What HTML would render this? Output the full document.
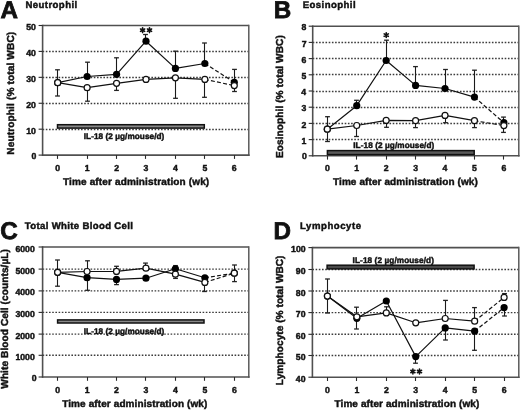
<!DOCTYPE html>
<html><head><meta charset="utf-8"><style>
html,body{margin:0;padding:0;background:#fff;}
svg{display:block;will-change:transform;}
text{font-family:"Liberation Sans", sans-serif;text-rendering:geometricPrecision;}
</style></head><body>
<svg width="520" height="410" viewBox="0 0 520 410">
<rect width="520" height="410" fill="#fff"/>
<line x1="42.60" y1="129.50" x2="248.80" y2="129.50" stroke="#3c3c3c" stroke-width="1.4" stroke-linecap="butt" stroke-dasharray="1.6 1.6"/>
<line x1="42.60" y1="103.50" x2="248.80" y2="103.50" stroke="#3c3c3c" stroke-width="1.4" stroke-linecap="butt" stroke-dasharray="1.6 1.6"/>
<line x1="42.60" y1="77.50" x2="248.80" y2="77.50" stroke="#3c3c3c" stroke-width="1.4" stroke-linecap="butt" stroke-dasharray="1.6 1.6"/>
<line x1="42.60" y1="51.50" x2="248.80" y2="51.50" stroke="#3c3c3c" stroke-width="1.4" stroke-linecap="butt" stroke-dasharray="1.6 1.6"/>
<line x1="42.60" y1="25.50" x2="248.80" y2="25.50" stroke="#505050" stroke-width="1.6" stroke-linecap="butt"/>
<line x1="248.80" y1="24.70" x2="248.80" y2="155.90" stroke="#5a5a5a" stroke-width="1.5" stroke-linecap="butt"/>
<line x1="42.60" y1="155.10" x2="249.60" y2="155.10" stroke="#505050" stroke-width="1.6" stroke-linecap="butt"/>
<line x1="42.60" y1="24.70" x2="42.60" y2="155.90" stroke="#505050" stroke-width="1.6" stroke-linecap="butt"/>
<line x1="38.60" y1="155.10" x2="42.60" y2="155.10" stroke="#2a2a2a" stroke-width="1.1" stroke-linecap="butt"/>
<line x1="38.60" y1="129.18" x2="42.60" y2="129.18" stroke="#2a2a2a" stroke-width="1.1" stroke-linecap="butt"/>
<line x1="38.60" y1="103.26" x2="42.60" y2="103.26" stroke="#2a2a2a" stroke-width="1.1" stroke-linecap="butt"/>
<line x1="38.60" y1="77.34" x2="42.60" y2="77.34" stroke="#2a2a2a" stroke-width="1.1" stroke-linecap="butt"/>
<line x1="38.60" y1="51.42" x2="42.60" y2="51.42" stroke="#2a2a2a" stroke-width="1.1" stroke-linecap="butt"/>
<line x1="38.60" y1="25.50" x2="42.60" y2="25.50" stroke="#2a2a2a" stroke-width="1.1" stroke-linecap="butt"/>
<line x1="57.50" y1="155.10" x2="57.50" y2="158.90" stroke="#2a2a2a" stroke-width="1.1" stroke-linecap="butt"/>
<line x1="87.50" y1="155.10" x2="87.50" y2="158.90" stroke="#2a2a2a" stroke-width="1.1" stroke-linecap="butt"/>
<line x1="116.50" y1="155.10" x2="116.50" y2="158.90" stroke="#2a2a2a" stroke-width="1.1" stroke-linecap="butt"/>
<line x1="145.50" y1="155.10" x2="145.50" y2="158.90" stroke="#2a2a2a" stroke-width="1.1" stroke-linecap="butt"/>
<line x1="175.50" y1="155.10" x2="175.50" y2="158.90" stroke="#2a2a2a" stroke-width="1.1" stroke-linecap="butt"/>
<line x1="204.50" y1="155.10" x2="204.50" y2="158.90" stroke="#2a2a2a" stroke-width="1.1" stroke-linecap="butt"/>
<line x1="234.50" y1="155.10" x2="234.50" y2="158.90" stroke="#2a2a2a" stroke-width="1.1" stroke-linecap="butt"/>
<text x="31.61" y="159.00" font-size="8.7" font-weight="bold" fill="#111" stroke="#111" stroke-width="0.45" textLength="4.84" lengthAdjust="spacing">0</text>
<text x="26.27" y="133.68" font-size="8.7" font-weight="bold" fill="#111" stroke="#111" stroke-width="0.45" textLength="9.68" lengthAdjust="spacing">10</text>
<text x="26.27" y="107.76" font-size="8.7" font-weight="bold" fill="#111" stroke="#111" stroke-width="0.45" textLength="9.68" lengthAdjust="spacing">20</text>
<text x="26.27" y="81.84" font-size="8.7" font-weight="bold" fill="#111" stroke="#111" stroke-width="0.45" textLength="9.68" lengthAdjust="spacing">30</text>
<text x="26.27" y="55.92" font-size="8.7" font-weight="bold" fill="#111" stroke="#111" stroke-width="0.45" textLength="9.68" lengthAdjust="spacing">40</text>
<text x="26.27" y="30.00" font-size="8.7" font-weight="bold" fill="#111" stroke="#111" stroke-width="0.45" textLength="9.68" lengthAdjust="spacing">50</text>
<text x="55.28" y="170.90" font-size="8.7" font-weight="bold" fill="#111" stroke="#111" stroke-width="0.45" textLength="4.84" lengthAdjust="spacing">0</text>
<text x="84.71" y="170.90" font-size="8.7" font-weight="bold" fill="#111" stroke="#111" stroke-width="0.45" textLength="4.84" lengthAdjust="spacing">1</text>
<text x="114.14" y="170.90" font-size="8.7" font-weight="bold" fill="#111" stroke="#111" stroke-width="0.45" textLength="4.84" lengthAdjust="spacing">2</text>
<text x="143.57" y="170.90" font-size="8.7" font-weight="bold" fill="#111" stroke="#111" stroke-width="0.45" textLength="4.84" lengthAdjust="spacing">3</text>
<text x="173.00" y="170.90" font-size="8.7" font-weight="bold" fill="#111" stroke="#111" stroke-width="0.45" textLength="4.84" lengthAdjust="spacing">4</text>
<text x="202.43" y="170.90" font-size="8.7" font-weight="bold" fill="#111" stroke="#111" stroke-width="0.45" textLength="4.84" lengthAdjust="spacing">5</text>
<text x="231.86" y="170.90" font-size="8.7" font-weight="bold" fill="#111" stroke="#111" stroke-width="0.45" textLength="4.84" lengthAdjust="spacing">6</text>
<text x="0.57" y="17.90" font-size="24.2" font-weight="bold" fill="#111" stroke="#111" stroke-width="0.8" textLength="17.66" lengthAdjust="spacing">A</text>
<text x="25.47" y="8.20" font-size="9.6" font-weight="bold" fill="#111" stroke="#111" stroke-width="0.45" textLength="51.70" lengthAdjust="spacing">Neutrophil</text>
<text x="62.98" y="184.70" font-size="10.0" font-weight="bold" fill="#111" stroke="#111" stroke-width="0.45" textLength="146.21" lengthAdjust="spacing">Time after administration (wk)</text>
<text x="83.76" y="139.00" font-size="8.2" font-weight="bold" fill="#111" stroke="#111" stroke-width="0.45" textLength="80.54" lengthAdjust="spacing">IL-18 (2 µg/mouse/d)</text>
<text x="14.20" y="154.77" font-size="10.1" font-weight="bold" fill="#111" stroke="#111" stroke-width="0.45" textLength="122.96" lengthAdjust="spacing" transform="rotate(-90 14.20 154.77)">Neutrophil (% total WBC)</text>
<rect x="57.50" y="124.70" width="146.80" height="3.40" fill="#888" stroke="#111" stroke-width="1.5"/>
<line x1="87.50" y1="62.20" x2="87.50" y2="76.50" stroke="#1a1a1a" stroke-width="1.1" stroke-linecap="butt"/>
<line x1="85.10" y1="62.20" x2="89.90" y2="62.20" stroke="#222" stroke-width="1.3" stroke-linecap="butt"/>
<line x1="116.50" y1="57.80" x2="116.50" y2="74.30" stroke="#1a1a1a" stroke-width="1.1" stroke-linecap="butt"/>
<line x1="114.10" y1="57.80" x2="118.90" y2="57.80" stroke="#222" stroke-width="1.3" stroke-linecap="butt"/>
<line x1="145.50" y1="34.50" x2="145.50" y2="41.20" stroke="#1a1a1a" stroke-width="1.1" stroke-linecap="butt"/>
<line x1="143.10" y1="34.50" x2="147.90" y2="34.50" stroke="#222" stroke-width="1.3" stroke-linecap="butt"/>
<line x1="175.50" y1="51.20" x2="175.50" y2="68.40" stroke="#1a1a1a" stroke-width="1.1" stroke-linecap="butt"/>
<line x1="173.10" y1="51.20" x2="177.90" y2="51.20" stroke="#222" stroke-width="1.3" stroke-linecap="butt"/>
<line x1="204.50" y1="43.00" x2="204.50" y2="63.50" stroke="#1a1a1a" stroke-width="1.1" stroke-linecap="butt"/>
<line x1="202.10" y1="43.00" x2="206.90" y2="43.00" stroke="#222" stroke-width="1.3" stroke-linecap="butt"/>
<line x1="234.50" y1="69.40" x2="234.50" y2="82.30" stroke="#1a1a1a" stroke-width="1.1" stroke-linecap="butt"/>
<line x1="232.10" y1="69.40" x2="236.90" y2="69.40" stroke="#222" stroke-width="1.3" stroke-linecap="butt"/>
<line x1="57.50" y1="69.80" x2="57.50" y2="82.70" stroke="#1a1a1a" stroke-width="1.1" stroke-linecap="butt"/>
<line x1="55.10" y1="69.80" x2="59.90" y2="69.80" stroke="#222" stroke-width="1.3" stroke-linecap="butt"/>
<line x1="57.50" y1="82.70" x2="57.50" y2="96.00" stroke="#1a1a1a" stroke-width="1.1" stroke-linecap="butt"/>
<line x1="55.10" y1="96.00" x2="59.90" y2="96.00" stroke="#222" stroke-width="1.3" stroke-linecap="butt"/>
<line x1="87.50" y1="87.70" x2="87.50" y2="101.20" stroke="#1a1a1a" stroke-width="1.1" stroke-linecap="butt"/>
<line x1="85.10" y1="101.20" x2="89.90" y2="101.20" stroke="#222" stroke-width="1.3" stroke-linecap="butt"/>
<line x1="116.50" y1="83.30" x2="116.50" y2="90.40" stroke="#1a1a1a" stroke-width="1.1" stroke-linecap="butt"/>
<line x1="114.10" y1="90.40" x2="118.90" y2="90.40" stroke="#222" stroke-width="1.3" stroke-linecap="butt"/>
<line x1="175.50" y1="77.80" x2="175.50" y2="98.30" stroke="#1a1a1a" stroke-width="1.1" stroke-linecap="butt"/>
<line x1="173.10" y1="98.30" x2="177.90" y2="98.30" stroke="#222" stroke-width="1.3" stroke-linecap="butt"/>
<line x1="204.50" y1="79.40" x2="204.50" y2="97.30" stroke="#1a1a1a" stroke-width="1.1" stroke-linecap="butt"/>
<line x1="202.10" y1="97.30" x2="206.90" y2="97.30" stroke="#222" stroke-width="1.3" stroke-linecap="butt"/>
<line x1="234.50" y1="85.60" x2="234.50" y2="91.50" stroke="#1a1a1a" stroke-width="1.1" stroke-linecap="butt"/>
<line x1="232.10" y1="91.50" x2="236.90" y2="91.50" stroke="#222" stroke-width="1.3" stroke-linecap="butt"/>
<polyline points="57.70,82.70 87.13,76.50 116.56,74.30 145.99,41.20 175.42,68.40 204.85,63.50" fill="none" stroke="#111" stroke-width="1.2" stroke-linejoin="round"/>
<polyline points="204.85,63.50 234.28,82.30" fill="none" stroke="#111" stroke-width="1.2" stroke-dasharray="4 2.2"/>
<polyline points="57.70,82.70 87.13,87.70 116.56,83.30 145.99,79.40 175.42,77.80 204.85,79.40" fill="none" stroke="#111" stroke-width="1.2" stroke-linejoin="round"/>
<polyline points="204.85,79.40 234.28,85.60" fill="none" stroke="#111" stroke-width="1.2" stroke-dasharray="4 2.2"/>
<circle cx="57.70" cy="82.70" r="3.6" fill="#000"/>
<circle cx="87.13" cy="76.50" r="3.6" fill="#000"/>
<circle cx="116.56" cy="74.30" r="3.6" fill="#000"/>
<circle cx="145.99" cy="41.20" r="3.6" fill="#000"/>
<circle cx="175.42" cy="68.40" r="3.6" fill="#000"/>
<circle cx="204.85" cy="63.50" r="3.6" fill="#000"/>
<circle cx="234.28" cy="82.30" r="3.6" fill="#000"/>
<circle cx="57.70" cy="82.70" r="3.0" fill="#fff" stroke="#111" stroke-width="1.2"/>
<circle cx="87.13" cy="87.70" r="3.0" fill="#fff" stroke="#111" stroke-width="1.2"/>
<circle cx="116.56" cy="83.30" r="3.0" fill="#fff" stroke="#111" stroke-width="1.2"/>
<circle cx="145.99" cy="79.40" r="3.0" fill="#fff" stroke="#111" stroke-width="1.2"/>
<circle cx="175.42" cy="77.80" r="3.0" fill="#fff" stroke="#111" stroke-width="1.2"/>
<circle cx="204.85" cy="79.40" r="3.0" fill="#fff" stroke="#111" stroke-width="1.2"/>
<circle cx="234.28" cy="85.60" r="3.0" fill="#fff" stroke="#111" stroke-width="1.2"/>
<path d="M142.60,27.80L142.60,32.60M140.52,29.00L144.68,31.40M144.68,29.00L140.52,31.40" stroke="#111" stroke-width="1.6" stroke-linecap="round" fill="none"/>
<path d="M149.50,27.80L149.50,32.60M147.42,29.00L151.58,31.40M151.58,29.00L147.42,31.40" stroke="#111" stroke-width="1.6" stroke-linecap="round" fill="none"/>
<line x1="312.70" y1="139.50" x2="518.80" y2="139.50" stroke="#3c3c3c" stroke-width="1.4" stroke-linecap="butt" stroke-dasharray="1.6 1.6"/>
<line x1="312.70" y1="123.50" x2="518.80" y2="123.50" stroke="#3c3c3c" stroke-width="1.4" stroke-linecap="butt" stroke-dasharray="1.6 1.6"/>
<line x1="312.70" y1="107.50" x2="518.80" y2="107.50" stroke="#3c3c3c" stroke-width="1.4" stroke-linecap="butt" stroke-dasharray="1.6 1.6"/>
<line x1="312.70" y1="91.50" x2="518.80" y2="91.50" stroke="#3c3c3c" stroke-width="1.4" stroke-linecap="butt" stroke-dasharray="1.6 1.6"/>
<line x1="312.70" y1="74.50" x2="518.80" y2="74.50" stroke="#3c3c3c" stroke-width="1.4" stroke-linecap="butt" stroke-dasharray="1.6 1.6"/>
<line x1="312.70" y1="58.50" x2="518.80" y2="58.50" stroke="#3c3c3c" stroke-width="1.4" stroke-linecap="butt" stroke-dasharray="1.6 1.6"/>
<line x1="312.70" y1="42.50" x2="518.80" y2="42.50" stroke="#3c3c3c" stroke-width="1.4" stroke-linecap="butt" stroke-dasharray="1.6 1.6"/>
<line x1="312.70" y1="26.20" x2="518.80" y2="26.20" stroke="#505050" stroke-width="1.6" stroke-linecap="butt"/>
<line x1="518.80" y1="25.40" x2="518.80" y2="156.60" stroke="#5a5a5a" stroke-width="1.5" stroke-linecap="butt"/>
<line x1="312.70" y1="155.80" x2="519.60" y2="155.80" stroke="#505050" stroke-width="1.6" stroke-linecap="butt"/>
<line x1="312.70" y1="25.40" x2="312.70" y2="156.60" stroke="#505050" stroke-width="1.6" stroke-linecap="butt"/>
<line x1="308.70" y1="155.80" x2="312.70" y2="155.80" stroke="#2a2a2a" stroke-width="1.1" stroke-linecap="butt"/>
<line x1="308.70" y1="139.60" x2="312.70" y2="139.60" stroke="#2a2a2a" stroke-width="1.1" stroke-linecap="butt"/>
<line x1="308.70" y1="123.40" x2="312.70" y2="123.40" stroke="#2a2a2a" stroke-width="1.1" stroke-linecap="butt"/>
<line x1="308.70" y1="107.20" x2="312.70" y2="107.20" stroke="#2a2a2a" stroke-width="1.1" stroke-linecap="butt"/>
<line x1="308.70" y1="91.00" x2="312.70" y2="91.00" stroke="#2a2a2a" stroke-width="1.1" stroke-linecap="butt"/>
<line x1="308.70" y1="74.80" x2="312.70" y2="74.80" stroke="#2a2a2a" stroke-width="1.1" stroke-linecap="butt"/>
<line x1="308.70" y1="58.60" x2="312.70" y2="58.60" stroke="#2a2a2a" stroke-width="1.1" stroke-linecap="butt"/>
<line x1="308.70" y1="42.40" x2="312.70" y2="42.40" stroke="#2a2a2a" stroke-width="1.1" stroke-linecap="butt"/>
<line x1="308.70" y1="26.20" x2="312.70" y2="26.20" stroke="#2a2a2a" stroke-width="1.1" stroke-linecap="butt"/>
<line x1="327.50" y1="155.80" x2="327.50" y2="159.60" stroke="#2a2a2a" stroke-width="1.1" stroke-linecap="butt"/>
<line x1="356.50" y1="155.80" x2="356.50" y2="159.60" stroke="#2a2a2a" stroke-width="1.1" stroke-linecap="butt"/>
<line x1="386.50" y1="155.80" x2="386.50" y2="159.60" stroke="#2a2a2a" stroke-width="1.1" stroke-linecap="butt"/>
<line x1="415.50" y1="155.80" x2="415.50" y2="159.60" stroke="#2a2a2a" stroke-width="1.1" stroke-linecap="butt"/>
<line x1="445.50" y1="155.80" x2="445.50" y2="159.60" stroke="#2a2a2a" stroke-width="1.1" stroke-linecap="butt"/>
<line x1="474.50" y1="155.80" x2="474.50" y2="159.60" stroke="#2a2a2a" stroke-width="1.1" stroke-linecap="butt"/>
<line x1="503.50" y1="155.80" x2="503.50" y2="159.60" stroke="#2a2a2a" stroke-width="1.1" stroke-linecap="butt"/>
<text x="302.11" y="159.40" font-size="8.7" font-weight="bold" fill="#111" stroke="#111" stroke-width="0.45" textLength="4.84" lengthAdjust="spacing">0</text>
<text x="301.51" y="143.70" font-size="8.7" font-weight="bold" fill="#111" stroke="#111" stroke-width="0.45" textLength="4.84" lengthAdjust="spacing">1</text>
<text x="301.61" y="127.50" font-size="8.7" font-weight="bold" fill="#111" stroke="#111" stroke-width="0.45" textLength="4.84" lengthAdjust="spacing">2</text>
<text x="301.58" y="111.30" font-size="8.7" font-weight="bold" fill="#111" stroke="#111" stroke-width="0.45" textLength="4.84" lengthAdjust="spacing">3</text>
<text x="301.32" y="95.10" font-size="8.7" font-weight="bold" fill="#111" stroke="#111" stroke-width="0.45" textLength="4.84" lengthAdjust="spacing">4</text>
<text x="301.51" y="78.90" font-size="8.7" font-weight="bold" fill="#111" stroke="#111" stroke-width="0.45" textLength="4.84" lengthAdjust="spacing">5</text>
<text x="301.58" y="62.70" font-size="8.7" font-weight="bold" fill="#111" stroke="#111" stroke-width="0.45" textLength="4.84" lengthAdjust="spacing">6</text>
<text x="301.65" y="46.50" font-size="8.7" font-weight="bold" fill="#111" stroke="#111" stroke-width="0.45" textLength="4.84" lengthAdjust="spacing">7</text>
<text x="301.52" y="30.30" font-size="8.7" font-weight="bold" fill="#111" stroke="#111" stroke-width="0.45" textLength="4.84" lengthAdjust="spacing">8</text>
<text x="324.88" y="170.90" font-size="8.7" font-weight="bold" fill="#111" stroke="#111" stroke-width="0.45" textLength="4.84" lengthAdjust="spacing">0</text>
<text x="354.31" y="170.90" font-size="8.7" font-weight="bold" fill="#111" stroke="#111" stroke-width="0.45" textLength="4.84" lengthAdjust="spacing">1</text>
<text x="383.74" y="170.90" font-size="8.7" font-weight="bold" fill="#111" stroke="#111" stroke-width="0.45" textLength="4.84" lengthAdjust="spacing">2</text>
<text x="413.17" y="170.90" font-size="8.7" font-weight="bold" fill="#111" stroke="#111" stroke-width="0.45" textLength="4.84" lengthAdjust="spacing">3</text>
<text x="442.60" y="170.90" font-size="8.7" font-weight="bold" fill="#111" stroke="#111" stroke-width="0.45" textLength="4.84" lengthAdjust="spacing">4</text>
<text x="472.03" y="170.90" font-size="8.7" font-weight="bold" fill="#111" stroke="#111" stroke-width="0.45" textLength="4.84" lengthAdjust="spacing">5</text>
<text x="501.46" y="170.90" font-size="8.7" font-weight="bold" fill="#111" stroke="#111" stroke-width="0.45" textLength="4.84" lengthAdjust="spacing">6</text>
<text x="273.70" y="17.90" font-size="24.2" font-weight="bold" fill="#111" stroke="#111" stroke-width="0.8" textLength="17.01" lengthAdjust="spacing">B</text>
<text x="302.67" y="8.30" font-size="9.6" font-weight="bold" fill="#111" stroke="#111" stroke-width="0.45" textLength="52.90" lengthAdjust="spacing">Eosinophil</text>
<text x="332.98" y="184.70" font-size="10.0" font-weight="bold" fill="#111" stroke="#111" stroke-width="0.45" textLength="144.81" lengthAdjust="spacing">Time after administration (wk)</text>
<text x="353.26" y="148.30" font-size="8.2" font-weight="bold" fill="#111" stroke="#111" stroke-width="0.45" textLength="81.04" lengthAdjust="spacing">IL-18 (2 µg/mouse/d)</text>
<text x="282.80" y="157.97" font-size="10.1" font-weight="bold" fill="#111" stroke="#111" stroke-width="0.45" textLength="122.76" lengthAdjust="spacing" transform="rotate(-90 282.80 157.97)">Eosinophil (% total WBC)</text>
<rect x="327.40" y="150.60" width="146.80" height="4.00" fill="#5a5a5a" stroke="#111" stroke-width="1.5"/>
<line x1="356.50" y1="100.30" x2="356.50" y2="105.70" stroke="#1a1a1a" stroke-width="1.1" stroke-linecap="butt"/>
<line x1="354.10" y1="100.30" x2="358.90" y2="100.30" stroke="#222" stroke-width="1.3" stroke-linecap="butt"/>
<line x1="386.50" y1="40.20" x2="386.50" y2="60.50" stroke="#1a1a1a" stroke-width="1.1" stroke-linecap="butt"/>
<line x1="384.10" y1="40.20" x2="388.90" y2="40.20" stroke="#222" stroke-width="1.3" stroke-linecap="butt"/>
<line x1="415.50" y1="66.60" x2="415.50" y2="85.40" stroke="#1a1a1a" stroke-width="1.1" stroke-linecap="butt"/>
<line x1="413.10" y1="66.60" x2="417.90" y2="66.60" stroke="#222" stroke-width="1.3" stroke-linecap="butt"/>
<line x1="445.50" y1="69.50" x2="445.50" y2="88.50" stroke="#1a1a1a" stroke-width="1.1" stroke-linecap="butt"/>
<line x1="443.10" y1="69.50" x2="447.90" y2="69.50" stroke="#222" stroke-width="1.3" stroke-linecap="butt"/>
<line x1="474.50" y1="70.20" x2="474.50" y2="97.10" stroke="#1a1a1a" stroke-width="1.1" stroke-linecap="butt"/>
<line x1="472.10" y1="70.20" x2="476.90" y2="70.20" stroke="#222" stroke-width="1.3" stroke-linecap="butt"/>
<line x1="503.50" y1="117.10" x2="503.50" y2="122.70" stroke="#1a1a1a" stroke-width="1.1" stroke-linecap="butt"/>
<line x1="501.10" y1="117.10" x2="505.90" y2="117.10" stroke="#222" stroke-width="1.3" stroke-linecap="butt"/>
<line x1="327.50" y1="116.70" x2="327.50" y2="129.20" stroke="#1a1a1a" stroke-width="1.1" stroke-linecap="butt"/>
<line x1="325.10" y1="116.70" x2="329.90" y2="116.70" stroke="#222" stroke-width="1.3" stroke-linecap="butt"/>
<line x1="327.50" y1="129.20" x2="327.50" y2="141.50" stroke="#1a1a1a" stroke-width="1.1" stroke-linecap="butt"/>
<line x1="325.10" y1="141.50" x2="329.90" y2="141.50" stroke="#222" stroke-width="1.3" stroke-linecap="butt"/>
<line x1="356.50" y1="125.50" x2="356.50" y2="136.50" stroke="#1a1a1a" stroke-width="1.1" stroke-linecap="butt"/>
<line x1="354.10" y1="136.50" x2="358.90" y2="136.50" stroke="#222" stroke-width="1.3" stroke-linecap="butt"/>
<line x1="386.50" y1="120.40" x2="386.50" y2="127.30" stroke="#1a1a1a" stroke-width="1.1" stroke-linecap="butt"/>
<line x1="384.10" y1="127.30" x2="388.90" y2="127.30" stroke="#222" stroke-width="1.3" stroke-linecap="butt"/>
<line x1="415.50" y1="120.70" x2="415.50" y2="127.60" stroke="#1a1a1a" stroke-width="1.1" stroke-linecap="butt"/>
<line x1="413.10" y1="127.60" x2="417.90" y2="127.60" stroke="#222" stroke-width="1.3" stroke-linecap="butt"/>
<line x1="445.50" y1="115.40" x2="445.50" y2="122.70" stroke="#1a1a1a" stroke-width="1.1" stroke-linecap="butt"/>
<line x1="443.10" y1="122.70" x2="447.90" y2="122.70" stroke="#222" stroke-width="1.3" stroke-linecap="butt"/>
<line x1="474.50" y1="120.70" x2="474.50" y2="127.60" stroke="#1a1a1a" stroke-width="1.1" stroke-linecap="butt"/>
<line x1="472.10" y1="127.60" x2="476.90" y2="127.60" stroke="#222" stroke-width="1.3" stroke-linecap="butt"/>
<line x1="503.50" y1="125.60" x2="503.50" y2="132.40" stroke="#1a1a1a" stroke-width="1.1" stroke-linecap="butt"/>
<line x1="501.10" y1="132.40" x2="505.90" y2="132.40" stroke="#222" stroke-width="1.3" stroke-linecap="butt"/>
<polyline points="327.30,129.20 356.73,105.70 386.16,60.50 415.59,85.40 445.02,88.50 474.45,97.10" fill="none" stroke="#111" stroke-width="1.2" stroke-linejoin="round"/>
<polyline points="474.45,97.10 503.88,122.70" fill="none" stroke="#111" stroke-width="1.2" stroke-dasharray="4 2.2"/>
<polyline points="327.30,129.20 356.73,125.50 386.16,120.40 415.59,120.70 445.02,115.40 474.45,120.70" fill="none" stroke="#111" stroke-width="1.2" stroke-linejoin="round"/>
<polyline points="474.45,120.70 503.88,125.60" fill="none" stroke="#111" stroke-width="1.2" stroke-dasharray="4 2.2"/>
<circle cx="327.30" cy="129.20" r="3.6" fill="#000"/>
<circle cx="356.73" cy="105.70" r="3.6" fill="#000"/>
<circle cx="386.16" cy="60.50" r="3.6" fill="#000"/>
<circle cx="415.59" cy="85.40" r="3.6" fill="#000"/>
<circle cx="445.02" cy="88.50" r="3.6" fill="#000"/>
<circle cx="474.45" cy="97.10" r="3.6" fill="#000"/>
<circle cx="503.88" cy="122.70" r="3.6" fill="#000"/>
<circle cx="327.30" cy="129.20" r="3.0" fill="#fff" stroke="#111" stroke-width="1.2"/>
<circle cx="356.73" cy="125.50" r="3.0" fill="#fff" stroke="#111" stroke-width="1.2"/>
<circle cx="386.16" cy="120.40" r="3.0" fill="#fff" stroke="#111" stroke-width="1.2"/>
<circle cx="415.59" cy="120.70" r="3.0" fill="#fff" stroke="#111" stroke-width="1.2"/>
<circle cx="445.02" cy="115.40" r="3.0" fill="#fff" stroke="#111" stroke-width="1.2"/>
<circle cx="474.45" cy="120.70" r="3.0" fill="#fff" stroke="#111" stroke-width="1.2"/>
<circle cx="503.88" cy="125.60" r="3.0" fill="#fff" stroke="#111" stroke-width="1.2"/>
<path d="M386.25,32.70L386.25,37.50M384.17,33.90L388.33,36.30M388.33,33.90L384.17,36.30" stroke="#111" stroke-width="1.6" stroke-linecap="round" fill="none"/>
<line x1="42.60" y1="355.30" x2="248.80" y2="355.30" stroke="#3c3c3c" stroke-width="1.4" stroke-linecap="butt" stroke-dasharray="1.6 1.6"/>
<line x1="42.60" y1="334.10" x2="248.80" y2="334.10" stroke="#3c3c3c" stroke-width="1.4" stroke-linecap="butt" stroke-dasharray="1.6 1.6"/>
<line x1="42.60" y1="312.40" x2="248.80" y2="312.40" stroke="#3c3c3c" stroke-width="1.4" stroke-linecap="butt" stroke-dasharray="1.6 1.6"/>
<line x1="42.60" y1="290.90" x2="248.80" y2="290.90" stroke="#3c3c3c" stroke-width="1.4" stroke-linecap="butt" stroke-dasharray="1.6 1.6"/>
<line x1="42.60" y1="269.10" x2="248.80" y2="269.10" stroke="#3c3c3c" stroke-width="1.4" stroke-linecap="butt" stroke-dasharray="1.6 1.6"/>
<line x1="42.60" y1="247.00" x2="248.80" y2="247.00" stroke="#505050" stroke-width="1.6" stroke-linecap="butt"/>
<line x1="248.80" y1="246.20" x2="248.80" y2="377.80" stroke="#5a5a5a" stroke-width="1.5" stroke-linecap="butt"/>
<line x1="42.60" y1="377.00" x2="249.60" y2="377.00" stroke="#505050" stroke-width="1.6" stroke-linecap="butt"/>
<line x1="42.60" y1="246.20" x2="42.60" y2="377.80" stroke="#505050" stroke-width="1.6" stroke-linecap="butt"/>
<line x1="38.60" y1="377.00" x2="42.60" y2="377.00" stroke="#2a2a2a" stroke-width="1.1" stroke-linecap="butt"/>
<line x1="38.60" y1="355.30" x2="42.60" y2="355.30" stroke="#2a2a2a" stroke-width="1.1" stroke-linecap="butt"/>
<line x1="38.60" y1="334.10" x2="42.60" y2="334.10" stroke="#2a2a2a" stroke-width="1.1" stroke-linecap="butt"/>
<line x1="38.60" y1="312.40" x2="42.60" y2="312.40" stroke="#2a2a2a" stroke-width="1.1" stroke-linecap="butt"/>
<line x1="38.60" y1="290.90" x2="42.60" y2="290.90" stroke="#2a2a2a" stroke-width="1.1" stroke-linecap="butt"/>
<line x1="38.60" y1="269.10" x2="42.60" y2="269.10" stroke="#2a2a2a" stroke-width="1.1" stroke-linecap="butt"/>
<line x1="38.60" y1="247.00" x2="42.60" y2="247.00" stroke="#2a2a2a" stroke-width="1.1" stroke-linecap="butt"/>
<line x1="57.50" y1="377.00" x2="57.50" y2="380.80" stroke="#2a2a2a" stroke-width="1.1" stroke-linecap="butt"/>
<line x1="87.50" y1="377.00" x2="87.50" y2="380.80" stroke="#2a2a2a" stroke-width="1.1" stroke-linecap="butt"/>
<line x1="116.50" y1="377.00" x2="116.50" y2="380.80" stroke="#2a2a2a" stroke-width="1.1" stroke-linecap="butt"/>
<line x1="145.50" y1="377.00" x2="145.50" y2="380.80" stroke="#2a2a2a" stroke-width="1.1" stroke-linecap="butt"/>
<line x1="175.50" y1="377.00" x2="175.50" y2="380.80" stroke="#2a2a2a" stroke-width="1.1" stroke-linecap="butt"/>
<line x1="204.50" y1="377.00" x2="204.50" y2="380.80" stroke="#2a2a2a" stroke-width="1.1" stroke-linecap="butt"/>
<line x1="234.50" y1="377.00" x2="234.50" y2="380.80" stroke="#2a2a2a" stroke-width="1.1" stroke-linecap="butt"/>
<text x="31.81" y="381.20" font-size="8.7" font-weight="bold" fill="#111" stroke="#111" stroke-width="0.45" textLength="4.84" lengthAdjust="spacing">0</text>
<text x="15.40" y="359.80" font-size="8.7" font-weight="bold" fill="#111" stroke="#111" stroke-width="0.45" textLength="19.35" lengthAdjust="spacing">1000</text>
<text x="15.40" y="338.60" font-size="8.7" font-weight="bold" fill="#111" stroke="#111" stroke-width="0.45" textLength="19.35" lengthAdjust="spacing">2000</text>
<text x="15.40" y="316.90" font-size="8.7" font-weight="bold" fill="#111" stroke="#111" stroke-width="0.45" textLength="19.35" lengthAdjust="spacing">3000</text>
<text x="15.40" y="295.40" font-size="8.7" font-weight="bold" fill="#111" stroke="#111" stroke-width="0.45" textLength="19.35" lengthAdjust="spacing">4000</text>
<text x="15.40" y="273.60" font-size="8.7" font-weight="bold" fill="#111" stroke="#111" stroke-width="0.45" textLength="19.35" lengthAdjust="spacing">5000</text>
<text x="15.40" y="251.50" font-size="8.7" font-weight="bold" fill="#111" stroke="#111" stroke-width="0.45" textLength="19.35" lengthAdjust="spacing">6000</text>
<text x="55.18" y="392.70" font-size="8.7" font-weight="bold" fill="#111" stroke="#111" stroke-width="0.45" textLength="4.84" lengthAdjust="spacing">0</text>
<text x="84.63" y="392.70" font-size="8.7" font-weight="bold" fill="#111" stroke="#111" stroke-width="0.45" textLength="4.84" lengthAdjust="spacing">1</text>
<text x="114.08" y="392.70" font-size="8.7" font-weight="bold" fill="#111" stroke="#111" stroke-width="0.45" textLength="4.84" lengthAdjust="spacing">2</text>
<text x="143.53" y="392.70" font-size="8.7" font-weight="bold" fill="#111" stroke="#111" stroke-width="0.45" textLength="4.84" lengthAdjust="spacing">3</text>
<text x="172.98" y="392.70" font-size="8.7" font-weight="bold" fill="#111" stroke="#111" stroke-width="0.45" textLength="4.84" lengthAdjust="spacing">4</text>
<text x="202.43" y="392.70" font-size="8.7" font-weight="bold" fill="#111" stroke="#111" stroke-width="0.45" textLength="4.84" lengthAdjust="spacing">5</text>
<text x="231.88" y="392.70" font-size="8.7" font-weight="bold" fill="#111" stroke="#111" stroke-width="0.45" textLength="4.84" lengthAdjust="spacing">6</text>
<text x="0.18" y="239.00" font-size="24.2" font-weight="bold" fill="#111" stroke="#111" stroke-width="0.8" textLength="16.30" lengthAdjust="spacing">C</text>
<text x="24.78" y="228.80" font-size="9.6" font-weight="bold" fill="#111" stroke="#111" stroke-width="0.45" textLength="108.19" lengthAdjust="spacing">Total White Blood Cell</text>
<text x="62.18" y="406.60" font-size="10.0" font-weight="bold" fill="#111" stroke="#111" stroke-width="0.45" textLength="145.11" lengthAdjust="spacing">Time after administration (wk)</text>
<text x="83.76" y="333.80" font-size="8.2" font-weight="bold" fill="#111" stroke="#111" stroke-width="0.45" textLength="80.54" lengthAdjust="spacing">IL-18 (2 µg/mouse/d)</text>
<text x="8.40" y="388.72" font-size="10.1" font-weight="bold" fill="#111" stroke="#111" stroke-width="0.45" textLength="139.71" lengthAdjust="spacing" transform="rotate(-90 8.40 388.72)">White Blood Cell (counts/µL)</text>
<rect x="57.60" y="319.90" width="146.40" height="3.10" fill="#888" stroke="#111" stroke-width="1.5"/>
<line x1="87.50" y1="277.70" x2="87.50" y2="290.30" stroke="#1a1a1a" stroke-width="1.1" stroke-linecap="butt"/>
<line x1="85.10" y1="290.30" x2="89.90" y2="290.30" stroke="#222" stroke-width="1.3" stroke-linecap="butt"/>
<line x1="116.50" y1="279.40" x2="116.50" y2="284.60" stroke="#1a1a1a" stroke-width="1.1" stroke-linecap="butt"/>
<line x1="114.10" y1="284.60" x2="118.90" y2="284.60" stroke="#222" stroke-width="1.3" stroke-linecap="butt"/>
<line x1="175.50" y1="265.60" x2="175.50" y2="268.80" stroke="#1a1a1a" stroke-width="1.1" stroke-linecap="butt"/>
<line x1="173.10" y1="265.60" x2="177.90" y2="265.60" stroke="#222" stroke-width="1.3" stroke-linecap="butt"/>
<line x1="57.50" y1="260.00" x2="57.50" y2="272.30" stroke="#1a1a1a" stroke-width="1.1" stroke-linecap="butt"/>
<line x1="55.10" y1="260.00" x2="59.90" y2="260.00" stroke="#222" stroke-width="1.3" stroke-linecap="butt"/>
<line x1="57.50" y1="272.30" x2="57.50" y2="286.20" stroke="#1a1a1a" stroke-width="1.1" stroke-linecap="butt"/>
<line x1="55.10" y1="286.20" x2="59.90" y2="286.20" stroke="#222" stroke-width="1.3" stroke-linecap="butt"/>
<line x1="87.50" y1="260.80" x2="87.50" y2="271.50" stroke="#1a1a1a" stroke-width="1.1" stroke-linecap="butt"/>
<line x1="85.10" y1="260.80" x2="89.90" y2="260.80" stroke="#222" stroke-width="1.3" stroke-linecap="butt"/>
<line x1="116.50" y1="266.30" x2="116.50" y2="271.40" stroke="#1a1a1a" stroke-width="1.1" stroke-linecap="butt"/>
<line x1="114.10" y1="266.30" x2="118.90" y2="266.30" stroke="#222" stroke-width="1.3" stroke-linecap="butt"/>
<line x1="145.50" y1="263.10" x2="145.50" y2="268.20" stroke="#1a1a1a" stroke-width="1.1" stroke-linecap="butt"/>
<line x1="143.10" y1="263.10" x2="147.90" y2="263.10" stroke="#222" stroke-width="1.3" stroke-linecap="butt"/>
<line x1="175.50" y1="274.20" x2="175.50" y2="278.40" stroke="#1a1a1a" stroke-width="1.1" stroke-linecap="butt"/>
<line x1="173.10" y1="278.40" x2="177.90" y2="278.40" stroke="#222" stroke-width="1.3" stroke-linecap="butt"/>
<line x1="204.50" y1="282.40" x2="204.50" y2="291.50" stroke="#1a1a1a" stroke-width="1.1" stroke-linecap="butt"/>
<line x1="202.10" y1="291.50" x2="206.90" y2="291.50" stroke="#222" stroke-width="1.3" stroke-linecap="butt"/>
<line x1="234.50" y1="265.00" x2="234.50" y2="273.20" stroke="#1a1a1a" stroke-width="1.1" stroke-linecap="butt"/>
<line x1="232.10" y1="265.00" x2="236.90" y2="265.00" stroke="#222" stroke-width="1.3" stroke-linecap="butt"/>
<line x1="234.50" y1="273.20" x2="234.50" y2="281.60" stroke="#1a1a1a" stroke-width="1.1" stroke-linecap="butt"/>
<line x1="232.10" y1="281.60" x2="236.90" y2="281.60" stroke="#222" stroke-width="1.3" stroke-linecap="butt"/>
<polyline points="57.60,272.30 87.05,277.70 116.50,279.40 145.95,278.20 175.40,268.80 204.85,277.80" fill="none" stroke="#111" stroke-width="1.2" stroke-linejoin="round"/>
<polyline points="204.85,277.80 234.30,273.20" fill="none" stroke="#111" stroke-width="1.2" stroke-dasharray="4 2.2"/>
<polyline points="57.60,272.30 87.05,271.50 116.50,271.40 145.95,268.20 175.40,274.20 204.85,282.40" fill="none" stroke="#111" stroke-width="1.2" stroke-linejoin="round"/>
<polyline points="204.85,282.40 234.30,273.20" fill="none" stroke="#111" stroke-width="1.2" stroke-dasharray="4 2.2"/>
<circle cx="57.60" cy="272.30" r="3.6" fill="#000"/>
<circle cx="87.05" cy="277.70" r="3.6" fill="#000"/>
<circle cx="116.50" cy="279.40" r="3.6" fill="#000"/>
<circle cx="145.95" cy="278.20" r="3.6" fill="#000"/>
<circle cx="175.40" cy="268.80" r="3.6" fill="#000"/>
<circle cx="204.85" cy="277.80" r="3.6" fill="#000"/>
<circle cx="234.30" cy="273.20" r="3.6" fill="#000"/>
<circle cx="57.60" cy="272.30" r="3.0" fill="#fff" stroke="#111" stroke-width="1.2"/>
<circle cx="87.05" cy="271.50" r="3.0" fill="#fff" stroke="#111" stroke-width="1.2"/>
<circle cx="116.50" cy="271.40" r="3.0" fill="#fff" stroke="#111" stroke-width="1.2"/>
<circle cx="145.95" cy="268.20" r="3.0" fill="#fff" stroke="#111" stroke-width="1.2"/>
<circle cx="175.40" cy="274.20" r="3.0" fill="#fff" stroke="#111" stroke-width="1.2"/>
<circle cx="204.85" cy="282.40" r="3.0" fill="#fff" stroke="#111" stroke-width="1.2"/>
<circle cx="234.30" cy="273.20" r="3.0" fill="#fff" stroke="#111" stroke-width="1.2"/>
<line x1="312.40" y1="355.50" x2="518.80" y2="355.50" stroke="#3c3c3c" stroke-width="1.4" stroke-linecap="butt" stroke-dasharray="1.6 1.6"/>
<line x1="312.40" y1="334.30" x2="518.80" y2="334.30" stroke="#3c3c3c" stroke-width="1.4" stroke-linecap="butt" stroke-dasharray="1.6 1.6"/>
<line x1="312.40" y1="312.60" x2="518.80" y2="312.60" stroke="#3c3c3c" stroke-width="1.4" stroke-linecap="butt" stroke-dasharray="1.6 1.6"/>
<line x1="312.40" y1="291.00" x2="518.80" y2="291.00" stroke="#3c3c3c" stroke-width="1.4" stroke-linecap="butt" stroke-dasharray="1.6 1.6"/>
<line x1="312.40" y1="269.50" x2="518.80" y2="269.50" stroke="#3c3c3c" stroke-width="1.4" stroke-linecap="butt" stroke-dasharray="1.6 1.6"/>
<line x1="312.40" y1="247.60" x2="518.80" y2="247.60" stroke="#505050" stroke-width="1.6" stroke-linecap="butt"/>
<line x1="518.80" y1="246.80" x2="518.80" y2="378.00" stroke="#5a5a5a" stroke-width="1.5" stroke-linecap="butt"/>
<line x1="312.40" y1="377.20" x2="519.60" y2="377.20" stroke="#505050" stroke-width="1.6" stroke-linecap="butt"/>
<line x1="312.40" y1="246.80" x2="312.40" y2="378.00" stroke="#505050" stroke-width="1.6" stroke-linecap="butt"/>
<line x1="308.40" y1="377.20" x2="312.40" y2="377.20" stroke="#2a2a2a" stroke-width="1.1" stroke-linecap="butt"/>
<line x1="308.40" y1="355.50" x2="312.40" y2="355.50" stroke="#2a2a2a" stroke-width="1.1" stroke-linecap="butt"/>
<line x1="308.40" y1="334.30" x2="312.40" y2="334.30" stroke="#2a2a2a" stroke-width="1.1" stroke-linecap="butt"/>
<line x1="308.40" y1="312.60" x2="312.40" y2="312.60" stroke="#2a2a2a" stroke-width="1.1" stroke-linecap="butt"/>
<line x1="308.40" y1="291.00" x2="312.40" y2="291.00" stroke="#2a2a2a" stroke-width="1.1" stroke-linecap="butt"/>
<line x1="308.40" y1="269.50" x2="312.40" y2="269.50" stroke="#2a2a2a" stroke-width="1.1" stroke-linecap="butt"/>
<line x1="308.40" y1="247.60" x2="312.40" y2="247.60" stroke="#2a2a2a" stroke-width="1.1" stroke-linecap="butt"/>
<line x1="327.50" y1="377.20" x2="327.50" y2="381.00" stroke="#2a2a2a" stroke-width="1.1" stroke-linecap="butt"/>
<line x1="356.50" y1="377.20" x2="356.50" y2="381.00" stroke="#2a2a2a" stroke-width="1.1" stroke-linecap="butt"/>
<line x1="386.50" y1="377.20" x2="386.50" y2="381.00" stroke="#2a2a2a" stroke-width="1.1" stroke-linecap="butt"/>
<line x1="415.50" y1="377.20" x2="415.50" y2="381.00" stroke="#2a2a2a" stroke-width="1.1" stroke-linecap="butt"/>
<line x1="445.50" y1="377.20" x2="445.50" y2="381.00" stroke="#2a2a2a" stroke-width="1.1" stroke-linecap="butt"/>
<line x1="474.50" y1="377.20" x2="474.50" y2="381.00" stroke="#2a2a2a" stroke-width="1.1" stroke-linecap="butt"/>
<line x1="504.50" y1="377.20" x2="504.50" y2="381.00" stroke="#2a2a2a" stroke-width="1.1" stroke-linecap="butt"/>
<text x="295.87" y="381.80" font-size="8.7" font-weight="bold" fill="#111" stroke="#111" stroke-width="0.45" textLength="9.68" lengthAdjust="spacing">40</text>
<text x="295.87" y="360.10" font-size="8.7" font-weight="bold" fill="#111" stroke="#111" stroke-width="0.45" textLength="9.68" lengthAdjust="spacing">50</text>
<text x="295.87" y="338.90" font-size="8.7" font-weight="bold" fill="#111" stroke="#111" stroke-width="0.45" textLength="9.68" lengthAdjust="spacing">60</text>
<text x="295.87" y="317.20" font-size="8.7" font-weight="bold" fill="#111" stroke="#111" stroke-width="0.45" textLength="9.68" lengthAdjust="spacing">70</text>
<text x="295.87" y="295.60" font-size="8.7" font-weight="bold" fill="#111" stroke="#111" stroke-width="0.45" textLength="9.68" lengthAdjust="spacing">80</text>
<text x="295.87" y="274.10" font-size="8.7" font-weight="bold" fill="#111" stroke="#111" stroke-width="0.45" textLength="9.68" lengthAdjust="spacing">90</text>
<text x="291.04" y="252.20" font-size="8.7" font-weight="bold" fill="#111" stroke="#111" stroke-width="0.45" textLength="14.52" lengthAdjust="spacing">100</text>
<text x="324.98" y="392.80" font-size="8.7" font-weight="bold" fill="#111" stroke="#111" stroke-width="0.45" textLength="4.84" lengthAdjust="spacing">0</text>
<text x="354.43" y="392.80" font-size="8.7" font-weight="bold" fill="#111" stroke="#111" stroke-width="0.45" textLength="4.84" lengthAdjust="spacing">1</text>
<text x="383.88" y="392.80" font-size="8.7" font-weight="bold" fill="#111" stroke="#111" stroke-width="0.45" textLength="4.84" lengthAdjust="spacing">2</text>
<text x="413.33" y="392.80" font-size="8.7" font-weight="bold" fill="#111" stroke="#111" stroke-width="0.45" textLength="4.84" lengthAdjust="spacing">3</text>
<text x="442.78" y="392.80" font-size="8.7" font-weight="bold" fill="#111" stroke="#111" stroke-width="0.45" textLength="4.84" lengthAdjust="spacing">4</text>
<text x="472.23" y="392.80" font-size="8.7" font-weight="bold" fill="#111" stroke="#111" stroke-width="0.45" textLength="4.84" lengthAdjust="spacing">5</text>
<text x="501.68" y="392.80" font-size="8.7" font-weight="bold" fill="#111" stroke="#111" stroke-width="0.45" textLength="4.84" lengthAdjust="spacing">6</text>
<text x="273.40" y="239.20" font-size="24.2" font-weight="bold" fill="#111" stroke="#111" stroke-width="0.8" textLength="17.72" lengthAdjust="spacing">D</text>
<text x="300.07" y="229.00" font-size="9.6" font-weight="bold" fill="#111" stroke="#111" stroke-width="0.45" textLength="60.97" lengthAdjust="spacing">Lymphocyte</text>
<text x="334.48" y="407.00" font-size="10.0" font-weight="bold" fill="#111" stroke="#111" stroke-width="0.45" textLength="144.81" lengthAdjust="spacing">Time after administration (wk)</text>
<text x="352.56" y="262.60" font-size="8.2" font-weight="bold" fill="#111" stroke="#111" stroke-width="0.45" textLength="81.34" lengthAdjust="spacing">IL-18 (2 µg/mouse/d)</text>
<text x="283.00" y="385.17" font-size="10.1" font-weight="bold" fill="#111" stroke="#111" stroke-width="0.45" textLength="129.66" lengthAdjust="spacing" transform="rotate(-90 283.00 385.17)">Lymphocyte (% total WBC)</text>
<rect x="327.10" y="265.20" width="147.00" height="3.70" fill="#4a4a4a" stroke="#111" stroke-width="1.5"/>
<line x1="415.50" y1="356.60" x2="415.50" y2="363.20" stroke="#1a1a1a" stroke-width="1.1" stroke-linecap="butt"/>
<line x1="413.10" y1="363.20" x2="417.90" y2="363.20" stroke="#222" stroke-width="1.3" stroke-linecap="butt"/>
<line x1="445.50" y1="327.90" x2="445.50" y2="340.00" stroke="#1a1a1a" stroke-width="1.1" stroke-linecap="butt"/>
<line x1="443.10" y1="340.00" x2="447.90" y2="340.00" stroke="#222" stroke-width="1.3" stroke-linecap="butt"/>
<line x1="474.50" y1="331.20" x2="474.50" y2="350.30" stroke="#1a1a1a" stroke-width="1.1" stroke-linecap="butt"/>
<line x1="472.10" y1="350.30" x2="476.90" y2="350.30" stroke="#222" stroke-width="1.3" stroke-linecap="butt"/>
<line x1="504.50" y1="307.60" x2="504.50" y2="316.00" stroke="#1a1a1a" stroke-width="1.1" stroke-linecap="butt"/>
<line x1="502.10" y1="316.00" x2="506.90" y2="316.00" stroke="#222" stroke-width="1.3" stroke-linecap="butt"/>
<line x1="327.50" y1="279.00" x2="327.50" y2="296.10" stroke="#1a1a1a" stroke-width="1.1" stroke-linecap="butt"/>
<line x1="325.10" y1="279.00" x2="329.90" y2="279.00" stroke="#222" stroke-width="1.3" stroke-linecap="butt"/>
<line x1="327.50" y1="296.10" x2="327.50" y2="313.00" stroke="#1a1a1a" stroke-width="1.1" stroke-linecap="butt"/>
<line x1="325.10" y1="313.00" x2="329.90" y2="313.00" stroke="#222" stroke-width="1.3" stroke-linecap="butt"/>
<line x1="356.50" y1="307.20" x2="356.50" y2="316.80" stroke="#1a1a1a" stroke-width="1.1" stroke-linecap="butt"/>
<line x1="354.10" y1="307.20" x2="358.90" y2="307.20" stroke="#222" stroke-width="1.3" stroke-linecap="butt"/>
<line x1="356.50" y1="316.80" x2="356.50" y2="329.00" stroke="#1a1a1a" stroke-width="1.1" stroke-linecap="butt"/>
<line x1="354.10" y1="329.00" x2="358.90" y2="329.00" stroke="#222" stroke-width="1.3" stroke-linecap="butt"/>
<line x1="386.50" y1="306.80" x2="386.50" y2="312.90" stroke="#1a1a1a" stroke-width="1.1" stroke-linecap="butt"/>
<line x1="384.10" y1="306.80" x2="388.90" y2="306.80" stroke="#222" stroke-width="1.3" stroke-linecap="butt"/>
<line x1="445.50" y1="300.40" x2="445.50" y2="318.50" stroke="#1a1a1a" stroke-width="1.1" stroke-linecap="butt"/>
<line x1="443.10" y1="300.40" x2="447.90" y2="300.40" stroke="#222" stroke-width="1.3" stroke-linecap="butt"/>
<line x1="474.50" y1="307.60" x2="474.50" y2="321.20" stroke="#1a1a1a" stroke-width="1.1" stroke-linecap="butt"/>
<line x1="472.10" y1="307.60" x2="476.90" y2="307.60" stroke="#222" stroke-width="1.3" stroke-linecap="butt"/>
<line x1="504.50" y1="293.60" x2="504.50" y2="297.40" stroke="#1a1a1a" stroke-width="1.1" stroke-linecap="butt"/>
<line x1="502.10" y1="293.60" x2="506.90" y2="293.60" stroke="#222" stroke-width="1.3" stroke-linecap="butt"/>
<polyline points="327.40,296.10 356.85,318.30 386.30,301.00 415.75,356.60 445.20,327.90 474.65,331.20" fill="none" stroke="#111" stroke-width="1.2" stroke-linejoin="round"/>
<polyline points="474.65,331.20 504.10,307.60" fill="none" stroke="#111" stroke-width="1.2" stroke-dasharray="4 2.2"/>
<polyline points="327.40,296.10 356.85,316.80 386.30,312.90 415.75,322.80 445.20,318.50 474.65,321.20" fill="none" stroke="#111" stroke-width="1.2" stroke-linejoin="round"/>
<polyline points="474.65,321.20 504.10,297.40" fill="none" stroke="#111" stroke-width="1.2" stroke-dasharray="4 2.2"/>
<circle cx="327.40" cy="296.10" r="3.6" fill="#000"/>
<circle cx="356.85" cy="318.30" r="3.6" fill="#000"/>
<circle cx="386.30" cy="301.00" r="3.6" fill="#000"/>
<circle cx="415.75" cy="356.60" r="3.6" fill="#000"/>
<circle cx="445.20" cy="327.90" r="3.6" fill="#000"/>
<circle cx="474.65" cy="331.20" r="3.6" fill="#000"/>
<circle cx="504.10" cy="307.60" r="3.6" fill="#000"/>
<circle cx="327.40" cy="296.10" r="3.0" fill="#fff" stroke="#111" stroke-width="1.2"/>
<circle cx="356.85" cy="316.80" r="3.0" fill="#fff" stroke="#111" stroke-width="1.2"/>
<circle cx="386.30" cy="312.90" r="3.0" fill="#fff" stroke="#111" stroke-width="1.2"/>
<circle cx="415.75" cy="322.80" r="3.0" fill="#fff" stroke="#111" stroke-width="1.2"/>
<circle cx="445.20" cy="318.50" r="3.0" fill="#fff" stroke="#111" stroke-width="1.2"/>
<circle cx="474.65" cy="321.20" r="3.0" fill="#fff" stroke="#111" stroke-width="1.2"/>
<circle cx="504.10" cy="297.40" r="3.0" fill="#fff" stroke="#111" stroke-width="1.2"/>
<path d="M412.90,369.10L412.90,373.90M410.82,370.30L414.98,372.70M414.98,370.30L410.82,372.70" stroke="#111" stroke-width="1.6" stroke-linecap="round" fill="none"/>
<path d="M419.50,369.10L419.50,373.90M417.42,370.30L421.58,372.70M421.58,370.30L417.42,372.70" stroke="#111" stroke-width="1.6" stroke-linecap="round" fill="none"/>
</svg>
</body></html>
